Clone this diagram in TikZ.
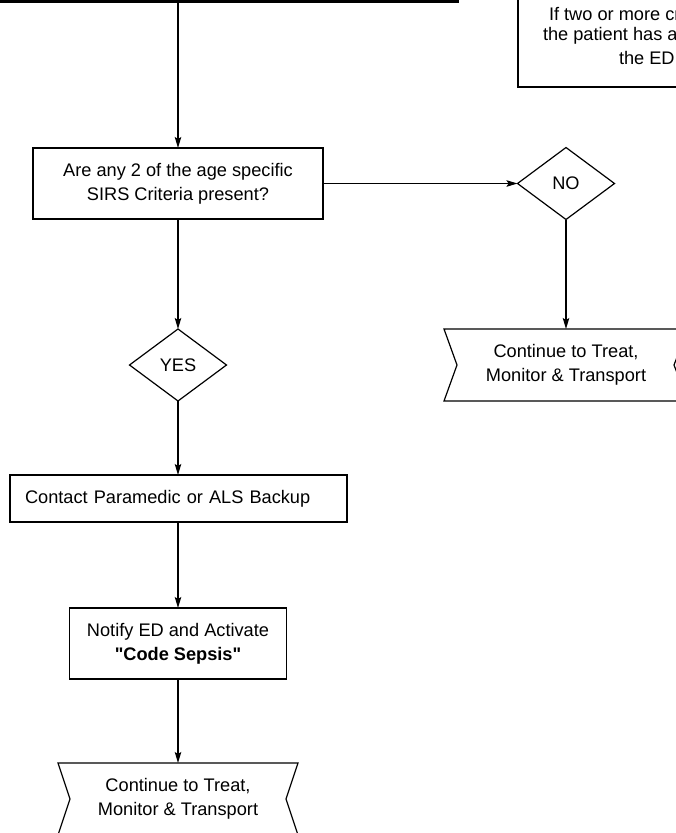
\documentclass[tikz,border=0pt]{standalone}
\usepackage{fontspec}
\setmainfont{Liberation Sans}
\usetikzlibrary{shapes.geometric,arrows.meta}
\font\quotefontB="Liberation Sans/B" at 18.2pt
\newcommand{\plainquote}{{\quotefontB\char34}}
\begin{document}
\begin{tikzpicture}[x=1pt,y=-1pt,
  every node/.style={font=\fontsize{18.2}{24}\selectfont, outer sep=0pt},
  box/.style={draw, line width=1.2pt, rectangle, inner sep=0pt, align=center},
  dia/.style={draw, line width=1.2pt, diamond, inner sep=0pt, minimum width=97pt, minimum height=72pt, aspect=1.35},
  chev/.style={rectangle, inner sep=0pt, align=center},
  chevline/.style={line width=1.2pt, line join=miter},
  arr/.style={line width=1.2pt, -{Stealth[length=11pt,width=6.5pt,inset=2pt]}},
  txt/.style={inner sep=0pt, anchor=west},
  ]
\useasboundingbox (0,0) rectangle (676,833);
\begin{scope}
\clip (0,0) rectangle (676,833);
% thick box above (only its bottom edge visible)
\node[draw, line width=3.4pt, minimum width=600pt, minimum height=150pt, inner sep=0pt, anchor=south east] (top) at (457,1.6) {};
% box at top right (partly visible)
\node[draw, line width=1.2pt, minimum width=300pt, minimum height=150pt, inner sep=0pt, anchor=south west] (note) at (518,87) {};
\node[txt] (n1) at (549,14) {If two or more cr};
\node[txt] (n2) at (543,36) {the patient has a};
\node[txt] (n3) at (619,58) {the ED};

% main flow
\node[box, minimum width=290pt, minimum height=71pt] (q) at (178,183.5) {Are any 2 of the age specific\\SIRS Criteria present?};
\node[dia] (no) at (566,183.5) {NO};
\node[dia] (yes) at (178,365) {YES};
\node[chev, minimum width=244pt, minimum height=72pt] (rchev) at (566,365) {Continue to Treat,\\Monitor \& Transport};
\node[box, minimum height=47pt, text width=307pt, align=left, inner xsep=15pt] (contact) at (178.5,498.5) {Contact Paramedic or ALS Backup};
\node[box, minimum width=217pt, minimum height=71pt] (notify) at (178,643.5) {Notify ED and Activate\\\plainquote\textbf{Code Sepsis}\plainquote};
\node[chev, minimum width=240pt, minimum height=72pt] (bchev) at (178,799) {Continue to Treat,\\Monitor \& Transport};

% chevron outlines
\draw[chevline] (rchev.north west) -- (rchev.north east) -- ([xshift=-14pt]rchev.east) -- (rchev.south east) -- (rchev.south west) -- ([xshift=13pt]rchev.west) -- cycle;
\draw[chevline] (bchev.north west) -- (bchev.north east) -- ([xshift=-12pt]bchev.east) -- (bchev.south east) -- (bchev.south west) -- ([xshift=12pt]bchev.west) -- cycle;

% connectors
\draw[arr] (q.north |- top.south) -- (q.north);
\draw[arr] (q.east) -- (no.west);
\draw[arr] (no.south) -- (rchev.north);
\draw[arr] (q.south) -- (yes.north);
\draw[arr] (yes.south) -- (contact.north -| yes.south);
\draw[arr] (contact.south -| yes.south) -- (notify.north);
\draw[arr] (notify.south) -- (bchev.north);
\end{scope}
\end{tikzpicture}
\end{document}
